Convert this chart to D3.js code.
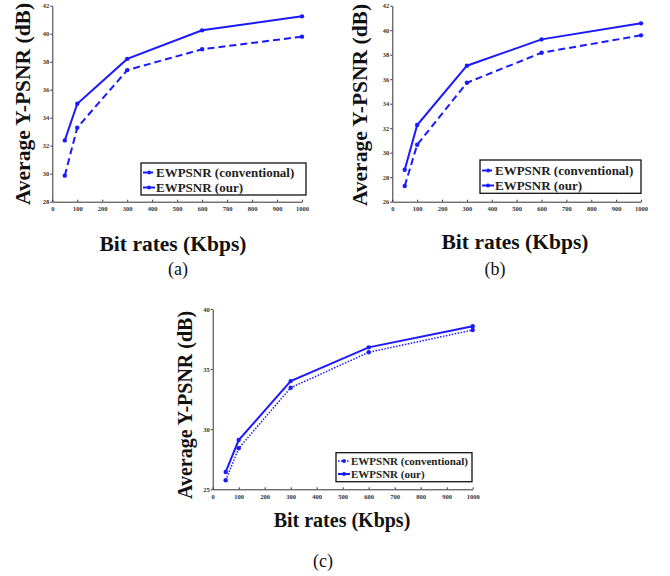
<!DOCTYPE html>
<html>
<head>
<meta charset="utf-8">
<script src="https://cdn.jsdelivr.net/npm/d3@7"></script>
<style>
  body { margin: 0; background: #fff; }
  svg { display: block; }
  text { font-family: "Liberation Serif", "Times New Roman", serif; }
</style>
</head>
<body>
<script>
// bit rates (Kbps)
var rates = [50, 100, 300, 600, 1000];
var xTickVals = [0, 100, 200, 300, 400, 500, 600, 700, 800, 900, 1000];

// (a)
var convA = [29.86, 33.29, 37.40, 38.89, 39.79];
var ourA  = [32.38, 35.00, 38.20, 40.24, 41.24];
var yTicksA = [28, 30, 32, 34, 36, 38, 40, 42];

// (b)
var convB = [27.28, 30.65, 35.71, 38.16, 39.58];
var ourB  = [28.61, 32.26, 37.10, 39.25, 40.56];
var yTicksB = [26, 28, 30, 32, 34, 36, 38, 40, 42];

// (c)
var convC = [25.75, 28.41, 33.45, 36.40, 38.25];
var ourC  = [26.44, 29.10, 34.00, 36.81, 38.56];
var yTicksC = [25, 30, 35, 40];

var seriesNames = ["EWPSNR (conventional)", "EWPSNR (our)"];
var blue = "#1a1aff";

var svg = d3.select("body").append("svg")
    .attr("width", 670)
    .attr("height", 576);

function drawPanel(p) {
    var x = d3.scaleLinear().domain([0, 1000]).range([p.left, p.right]);
    var y = d3.scaleLinear().domain(d3.extent(p.yTicks)).range([p.bottom, p.top]);
    var g = svg.append("g");

    var xAxis = g.append("g")
        .attr("transform", "translate(0," + p.bottom + ")")
        .call(d3.axisBottom(x).tickValues(xTickVals).tickFormat(d3.format("d"))
            .tickSize(-2).tickPadding(5).tickSizeOuter(0));
    var yAxis = g.append("g")
        .attr("transform", "translate(" + p.left + ",0)")
        .call(d3.axisLeft(y).tickValues(p.yTicks).tickFormat(d3.format("d"))
            .tickSize(2).tickPadding(1).tickSizeOuter(0));
    [xAxis, yAxis].forEach(function(a) {
        a.selectAll("path, line").attr("stroke", "#333").attr("stroke-width", 1);
        a.selectAll("text").attr("font-size", p.tickFont).attr("font-weight", "bold").attr("fill", "#333")
            .style("font-family", '"Liberation Serif", serif');
    });

    var line = d3.line().x(function(d) { return x(d[0]); }).y(function(d) { return y(d[1]); });
    var series = [
        { vals: p.conv, dash: p.dash, w: p.convW },
        { vals: p.our, dash: null, w: 2 }
    ];
    series.forEach(function(s) {
        var pts = rates.map(function(r, i) { return [r, s.vals[i]]; });
        g.append("path").datum(pts)
            .attr("d", line)
            .attr("fill", "none")
            .attr("stroke", blue)
            .attr("stroke-width", s.w)
            .attr("stroke-dasharray", s.dash);
        g.selectAll(null).data(pts).enter().append("circle")
            .attr("cx", function(d) { return x(d[0]); })
            .attr("cy", function(d) { return y(d[1]); })
            .attr("r", 2.2)
            .attr("fill", blue);
    });

    // legend
    var L = p.legend;
    g.append("rect")
        .attr("x", L.x0).attr("y", L.y0)
        .attr("width", L.x1 - L.x0).attr("height", L.y1 - L.y0)
        .attr("fill", "#fff").attr("stroke", "#111").attr("stroke-width", 1.3);
    series.forEach(function(s, i) {
        var ry = L.rows[i];
        g.append("line")
            .attr("x1", L.x0 + 2).attr("x2", L.x0 + 14)
            .attr("y1", ry).attr("y2", ry)
            .attr("stroke", blue).attr("stroke-width", s.w)
            .attr("stroke-dasharray", s.dash ? L.sampleDash : null);
        g.append("circle").attr("cx", L.x0 + 8).attr("cy", ry).attr("r", 2).attr("fill", blue);
        g.append("text")
            .attr("x", L.x0 + 15).attr("y", ry)
            .attr("dy", "0.35em")
            .attr("font-size", L.font).attr("font-weight", "bold").attr("fill", "#222")
            .text(seriesNames[i]);
    });

    // axis titles
    g.append("text")
        .attr("transform", "translate(" + p.yLabel[0] + "," + p.yLabel[1] + ") rotate(-90)")
        .attr("text-anchor", "middle").attr("dy", "0.35em")
        .attr("font-size", p.titleFont).attr("font-weight", "bold").attr("fill", "#111")
        .text("Average Y-PSNR (dB)");
    g.append("text")
        .attr("x", p.xLabel[0]).attr("y", p.xLabel[1])
        .attr("text-anchor", "middle")
        .attr("font-size", p.titleFont).attr("font-weight", "bold").attr("fill", "#111")
        .text("Bit rates (Kbps)");
    g.append("text")
        .attr("x", p.cap[0]).attr("y", p.cap[1])
        .attr("text-anchor", "middle")
        .attr("font-size", 18).attr("fill", "#111")
        .text(p.capText);
}

drawPanel({
    left: 52.3, right: 302, top: 5.7, bottom: 201.7,
    conv: convA, our: ourA, yTicks: yTicksA,
    dash: "7,4", convW: 2, tickFont: 6.5, titleFont: 21.5,
    legend: { x0: 141, x1: 306, y0: 163, y1: 195, rows: [172.5, 187.5], font: 13, sampleDash: "4,2" },
    yLabel: [22.5, 104], xLabel: [173, 251], cap: [178, 275], capText: "(a)"
});

drawPanel({
    left: 392.3, right: 641, top: 5.7, bottom: 201.7,
    conv: convB, our: ourB, yTicks: yTicksB,
    dash: "7,4", convW: 2, tickFont: 6.5, titleFont: 21.5,
    legend: { x0: 480, x1: 641, y0: 160, y1: 193.3, rows: [170.5, 185.5], font: 13, sampleDash: "4,2" },
    yLabel: [359, 105], xLabel: [515, 249], cap: [495, 275], capText: "(b)"
});

drawPanel({
    left: 212.7, right: 472.7, top: 309, bottom: 489.3,
    conv: convC, our: ourC, yTicks: yTicksC,
    dash: "1.5,1.5", convW: 1.5, tickFont: 6.5, titleFont: 20,
    legend: { x0: 336, x1: 472, y0: 452.7, y1: 481.7, rows: [461, 474], font: 11, sampleDash: "1.5,1.5" },
    yLabel: [185, 405], xLabel: [342, 527], cap: [323, 567], capText: "(c)"
});
</script>
</body>
</html>
